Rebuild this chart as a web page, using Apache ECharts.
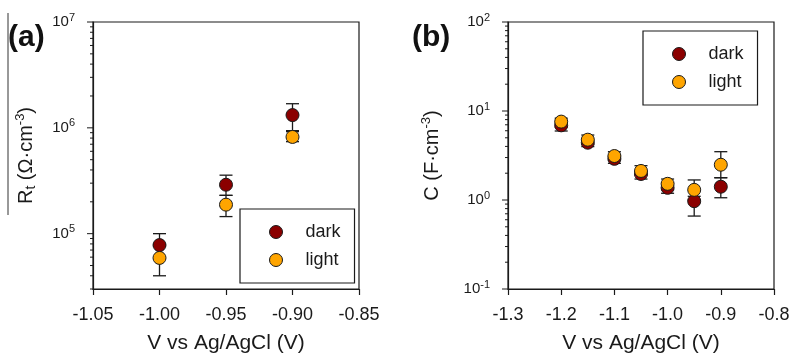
<!DOCTYPE html>
<html>
<head>
<meta charset="utf-8">
<script src="https://cdn.jsdelivr.net/npm/echarts@6/dist/echarts.min.js"></script>
<style>
  html, body { margin: 0; padding: 0; background: #fff; }
  #chart { width: 793px; height: 356px; }
</style>
</head>
<body>
<div id="chart"></div>
<script>
// panel (a): charge-transfer resistance Rt
const aVolts = [-1.0, -0.95, -0.9];
const aDark = [7.8e4, 2.9e5, 1.32e6];
const aDarkLo = [7.6e4, 2.3e5, 9.2e5];
const aDarkHi = [1.0e5, 3.57e5, 1.69e6];
const aLight = [5.9e4, 1.88e5, 8.2e5];
const aLightLo = [4.0e4, 1.45e5, 7.4e5];
const aLightHi = [7.9e4, 2.3e5, 9.4e5];

// panel (b): capacitance C
const bVolts = [-1.2, -1.15, -1.1, -1.05, -1.0, -0.95, -0.9];
const bDark = [6.9, 4.4, 2.9, 1.96, 1.37, 0.97, 1.41];
const bDarkLo = [5.96, 3.98, 2.58, 1.72, 1.19, 0.66, 1.06];
const bDarkHi = [7.6, 4.8, 3.1, 2.1, 1.55, 1.1, 1.78];
const bLight = [7.6, 4.76, 3.12, 2.12, 1.52, 1.3, 2.49];
const bLightLo = [6.6, 4.2, 2.8, 1.9, 1.3, 1.0, 1.78];
const bLightHi = [8.3, 5.37, 3.49, 2.43, 1.72, 1.68, 3.49];

// y tick positions (log axes)
const aDecades = [1e4, 1e5, 1e6];
const bDecades = [0.1, 1, 10];
const minorSteps = [2, 3, 4, 5, 6, 7, 8, 9];

const DARK = "#8b0000";
const LIGHT = "#ffa500";
const INK = "#1a1a1a";
const FONT = "'Liberation Sans', Arial, sans-serif";

const chart = echarts.init(document.getElementById("chart"), null, { renderer: "canvas" });

function pairs(xs, ys) {
  return xs.map((x, i) => [x, ys[i]]);
}

function errRows(xs, lo, hi) {
  return xs.map((x, i) => [x, lo[i], hi[i]]);
}

function tickRows(decades, xmin, ymin, ymax) {
  const rows = [];
  decades.forEach((d) => {
    minorSteps.forEach((m) => {
      const v = d * m;
      if (v >= ymin && v <= ymax) rows.push([xmin, v, 3]);
    });
    const major = d * 10;
    if (major >= ymin && major <= ymax) rows.push([xmin, major, 6]);
  });
  if (decades[0] >= ymin) rows.push([xmin, decades[0], 6]);
  return rows;
}

function renderErr(params, api) {
  const x = api.value(0);
  const p1 = api.coord([x, api.value(1)]);
  const p2 = api.coord([x, api.value(2)]);
  const w = 6.5;
  const style = { stroke: INK, lineWidth: 1.3 };
  return {
    type: "group",
    children: [
      { type: "line", shape: { x1: p1[0], y1: p1[1], x2: p2[0], y2: p2[1] }, style },
      { type: "line", shape: { x1: p1[0] - w, y1: p1[1], x2: p1[0] + w, y2: p1[1] }, style },
      { type: "line", shape: { x1: p2[0] - w, y1: p2[1], x2: p2[0] + w, y2: p2[1] }, style },
    ],
  };
}

function renderTick(params, api) {
  const p = api.coord([api.value(0), api.value(1)]);
  const len = api.value(2);
  return {
    type: "line",
    shape: { x1: p[0] - len, y1: p[1], x2: p[0], y2: p[1] },
    style: { stroke: INK, lineWidth: 1 },
  };
}

const supRich = {
  sup: { fontSize: 11, fontFamily: FONT, color: INK, padding: [0, 0, 9, 0] },
};

function powLabel(v) {
  const e = Math.log10(v);
  if (Math.abs(e - Math.round(e)) > 1e-6) return "";
  return "10{sup|" + Math.round(e) + "}";
}

function xAxis(gridIndex, min, max, interval, digits) {
  return {
    type: "value",
    gridIndex,
    min,
    max,
    interval,
    name: "V vs Ag/AgCl (V)",
    nameLocation: "middle",
    nameGap: 44,
    nameTextStyle: { fontSize: 21, color: INK, fontFamily: FONT },
    axisLine: { lineStyle: { color: INK, width: 1.2 } },
    axisTick: { inside: false, length: 6, lineStyle: { color: INK, width: 1.2 } },
    axisLabel: {
      margin: 17,
      fontSize: 18,
      color: INK,
      fontFamily: FONT,
      formatter: (v) => v.toFixed(digits),
    },
    splitLine: { show: false },
  };
}

function yAxis(gridIndex, min, max, name, gap) {
  return {
    type: "log",
    logBase: 10,
    gridIndex,
    min,
    max,
    name,
    nameLocation: "middle",
    nameGap: gap,
    nameRotate: 90,
    nameTextStyle: {
      fontSize: 20,
      color: INK,
      fontFamily: FONT,
      rich: {
        sup: { fontSize: 13, fontFamily: FONT, color: INK, padding: [0, 0, 11, 0] },
        sub: { fontSize: 14, fontFamily: FONT, color: INK, padding: [10, 0, 0, 0] },
      },
    },
    axisLine: { lineStyle: { color: INK, width: 1.2 } },
    axisTick: { show: false },
    axisLabel: {
      margin: 18,
      fontSize: 15,
      color: INK,
      fontFamily: FONT,
      formatter: powLabel,
      rich: supRich,
    },
    splitLine: { show: false },
  };
}

function legend(left, top) {
  return {
    left,
    top,
    orient: "vertical",
    data: ["dark", "light"],
    icon: "circle",
    itemWidth: 13,
    itemHeight: 13,
    itemGap: 10,
    padding: [14, 14, 14, 29],
    borderColor: INK,
    borderWidth: 1.2,
    borderRadius: 0,
    textStyle: { fontSize: 18, color: INK, fontFamily: FONT, padding: [0, 0, 0, 18] },
    itemStyle: { borderColor: INK, borderWidth: 1 },
  };
}

function scatter(name, xi, data, color) {
  return {
    name,
    type: "scatter",
    xAxisIndex: xi,
    yAxisIndex: xi,
    data,
    symbolSize: 13,
    itemStyle: { color, borderColor: INK, borderWidth: 1, opacity: 1 },
    emphasis: { disabled: true },
  };
}

function errSeries(xi, data) {
  return {
    type: "custom",
    xAxisIndex: xi,
    yAxisIndex: xi,
    data,
    clip: false,
    silent: true,
    encode: { x: 0, y: [1, 2] },
    renderItem: renderErr,
  };
}

function tickSeries(xi, data) {
  return {
    type: "custom",
    xAxisIndex: xi,
    yAxisIndex: xi,
    data,
    clip: false,
    silent: true,
    encode: { x: 0, y: 1 },
    renderItem: renderTick,
  };
}

chart.setOption({
  animation: false,
  textStyle: { fontFamily: FONT },
  grid: [
    { left: 93, right: 434, top: 22, bottom: 67, outerBoundsMode: "none", show: true, borderColor: INK, borderWidth: 1.2 },
    { left: 508, right: 19, top: 22, bottom: 67, outerBoundsMode: "none", show: true, borderColor: INK, borderWidth: 1.2 },
  ],
  xAxis: [xAxis(0, -1.05, -0.85, 0.05, 2), xAxis(1, -1.3, -0.8, 0.1, 1)],
  yAxis: [
    yAxis(0, 3e4, 1e7, "R{sub|t} (Ω·cm{sup|-3})", 55),
    yAxis(1, 0.1, 100, "C (F·cm{sup|-3})", 64),
  ],
  legend: [legend(240, 209), legend(643, 31)],
  series: [
    tickSeries(0, tickRows(aDecades, -1.05, 3e4, 1e7)),
    tickSeries(1, tickRows(bDecades, -1.3, 0.1, 100)),
    scatter("dark", 0, pairs(aVolts, aDark), DARK),
    errSeries(0, errRows(aVolts, aDarkLo, aDarkHi)),
    errSeries(0, errRows(aVolts, aLightLo, aLightHi)),
    scatter("light", 0, pairs(aVolts, aLight), LIGHT),
    scatter("dark", 1, pairs(bVolts, bDark), DARK),
    errSeries(1, errRows(bVolts, bDarkLo, bDarkHi)),
    errSeries(1, errRows(bVolts, bLightLo, bLightHi)),
    scatter("light", 1, pairs(bVolts, bLight), LIGHT),
  ],
  graphic: [
    { type: "text", left: 8, top: 23, style: { text: "(a)", fontSize: 30, fontWeight: "bold", fill: "#111", fontFamily: FONT } },
    { type: "text", left: 412, top: 23, style: { text: "(b)", fontSize: 30, fontWeight: "bold", fill: "#111", fontFamily: FONT } },
    { type: "line", shape: { x1: 8, y1: 13, x2: 8, y2: 215 }, style: { stroke: "#333", lineWidth: 1 } },
  ],
});
</script>
</body>
</html>
